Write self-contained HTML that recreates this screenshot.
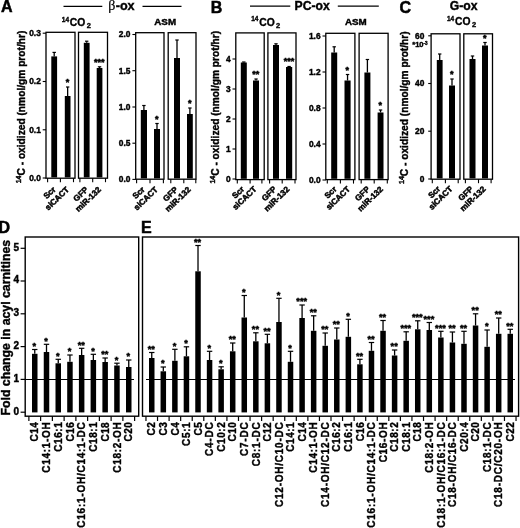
<!DOCTYPE html>
<html lang="en"><head><meta charset="utf-8"><title>Figure</title>
<style>html,body{margin:0;padding:0;background:#fff;}svg{display:block;}text{font-kerning:normal;}</style>
</head><body>
<svg width="520" height="528" viewBox="0 0 520 528" font-family='"Liberation Sans", Arial, Helvetica, sans-serif' fill="#000">
<rect x="0" y="0" width="520" height="528" fill="#fff"/>
<text x="0.90" y="12.10" font-size="16" font-weight="bold" text-anchor="start" stroke="#000" stroke-width="0.5" >A</text>
<text x="210.70" y="13.00" font-size="16" font-weight="bold" text-anchor="start" stroke="#000" stroke-width="0.5" >B</text>
<text x="399.50" y="13.20" font-size="16" font-weight="bold" text-anchor="start" stroke="#000" stroke-width="0.5" >C</text>
<text x="-1.60" y="233.10" font-size="16" font-weight="bold" text-anchor="start" stroke="#000" stroke-width="0.5" >D</text>
<text x="141.00" y="233.20" font-size="16" font-weight="bold" text-anchor="start" stroke="#000" stroke-width="0.5" >E</text>
<line x1="63.50" y1="6.30" x2="102.30" y2="6.30" stroke="#000" stroke-width="1.2" />
<line x1="142.50" y1="6.30" x2="181.50" y2="6.30" stroke="#000" stroke-width="1.2" />
<text x="108.30" y="9.70" font-size="12.6" font-weight="bold" text-anchor="start" stroke="#000" stroke-width="0.4" ><tspan font-family='"Liberation Serif", "DejaVu Serif", serif' font-weight="normal" font-size="14" stroke-width="0.2">β</tspan><tspan dx="0.3">-ox</tspan></text>
<line x1="250.00" y1="6.10" x2="290.30" y2="6.10" stroke="#000" stroke-width="1.2" />
<line x1="337.80" y1="6.10" x2="378.80" y2="6.10" stroke="#000" stroke-width="1.2" />
<text x="294.50" y="10.00" font-size="12.2" font-weight="bold" text-anchor="start" stroke="#000" stroke-width="0.4" >PC-ox</text>
<text x="449.80" y="10.00" font-size="12.2" font-weight="bold" text-anchor="start" stroke="#000" stroke-width="0.4" >G-ox</text>
<text x="61.80" y="25.90" font-size="10.3" font-weight="bold" text-anchor="start" stroke="#000" stroke-width="0.35" ><tspan font-size="6.5" dy="-4.2">14</tspan><tspan dy="4.2" dx="0.8">CO</tspan><tspan font-size="7.5" dy="2.2" dx="1.4">2</tspan></text>
<text x="251.20" y="25.60" font-size="10.3" font-weight="bold" text-anchor="start" stroke="#000" stroke-width="0.35" ><tspan font-size="6.5" dy="-4.2">14</tspan><tspan dy="4.2" dx="0.8">CO</tspan><tspan font-size="7.5" dy="2.2" dx="1.4">2</tspan></text>
<text x="447.00" y="25.20" font-size="10.3" font-weight="bold" text-anchor="start" stroke="#000" stroke-width="0.35" ><tspan font-size="6.5" dy="-4.2">14</tspan><tspan dy="4.2" dx="0.8">CO</tspan><tspan font-size="7.5" dy="2.2" dx="1.4">2</tspan></text>
<text x="165.20" y="24.60" font-size="9.8" font-weight="bold" text-anchor="middle" stroke="#000" stroke-width="0.45" >ASM</text>
<text x="355.80" y="24.90" font-size="9.8" font-weight="bold" text-anchor="middle" stroke="#000" stroke-width="0.45" >ASM</text>
<text x="25.20" y="183.30" font-size="10.2" font-weight="bold" text-anchor="start" transform="rotate(-90 25.20 183.30)" stroke="#000" stroke-width="0.4" ><tspan font-size="7" dy="-4.0">14</tspan><tspan dy="4.0">C - oxidized (nmol/gm prot/hr)</tspan></text>
<text x="219.00" y="183.60" font-size="10.2" font-weight="bold" text-anchor="start" transform="rotate(-90 219.00 183.60)" stroke="#000" stroke-width="0.4" ><tspan font-size="7" dy="-4.0">14</tspan><tspan dy="4.0">C - oxidized (nmol/gm prot/hr)</tspan></text>
<text x="407.80" y="184.00" font-size="10.2" font-weight="bold" text-anchor="start" transform="rotate(-90 407.80 184.00)" stroke="#000" stroke-width="0.4" ><tspan font-size="7" dy="-4.0">14</tspan><tspan dy="4.0">C - oxidized (nmol/gm prot/hr)</tspan></text>
<rect x="46.00" y="32.30" width="29.00" height="145.90" fill="none" stroke="#000" stroke-width="1.3"/>
<rect x="78.50" y="32.30" width="29.00" height="145.90" fill="none" stroke="#000" stroke-width="1.3"/>
<line x1="47.60" y1="178.20" x2="47.60" y2="182.20" stroke="#000" stroke-width="1.1" />
<line x1="60.40" y1="178.20" x2="60.40" y2="182.20" stroke="#000" stroke-width="1.1" />
<line x1="73.50" y1="178.20" x2="73.50" y2="182.20" stroke="#000" stroke-width="1.1" />
<line x1="79.90" y1="178.20" x2="79.90" y2="182.20" stroke="#000" stroke-width="1.1" />
<line x1="92.70" y1="178.20" x2="92.70" y2="182.20" stroke="#000" stroke-width="1.1" />
<line x1="105.50" y1="178.20" x2="105.50" y2="182.20" stroke="#000" stroke-width="1.1" />
<line x1="42.70" y1="33.20" x2="46.00" y2="33.20" stroke="#000" stroke-width="1.1" />
<text x="40.80" y="36.10" font-size="8.4" font-weight="bold" text-anchor="end" stroke="#000" stroke-width="0.4" >0.3</text>
<line x1="42.70" y1="81.50" x2="46.00" y2="81.50" stroke="#000" stroke-width="1.1" />
<text x="40.80" y="84.40" font-size="8.4" font-weight="bold" text-anchor="end" stroke="#000" stroke-width="0.4" >0.2</text>
<line x1="42.70" y1="129.80" x2="46.00" y2="129.80" stroke="#000" stroke-width="1.1" />
<text x="40.80" y="132.70" font-size="8.4" font-weight="bold" text-anchor="end" stroke="#000" stroke-width="0.4" >0.1</text>
<line x1="42.70" y1="178.00" x2="46.00" y2="178.00" stroke="#000" stroke-width="1.1" />
<text x="40.80" y="180.90" font-size="8.4" font-weight="bold" text-anchor="end" stroke="#000" stroke-width="0.4" >0.0</text>
<rect x="51.30" y="56.40" width="5.80" height="121.00" fill="#000" stroke="none" stroke-width="1"/>
<line x1="54.20" y1="56.40" x2="54.20" y2="52.40" stroke="#000" stroke-width="1.3" />
<line x1="52.50" y1="52.40" x2="55.90" y2="52.40" stroke="#000" stroke-width="1.2" />
<rect x="64.80" y="96.00" width="5.70" height="81.40" fill="#000" stroke="none" stroke-width="1"/>
<line x1="67.65" y1="96.00" x2="67.65" y2="87.00" stroke="#000" stroke-width="1.3" />
<line x1="65.95" y1="87.00" x2="69.35" y2="87.00" stroke="#000" stroke-width="1.2" />
<text x="67.45" y="85.20" font-size="9.0" font-weight="bold" text-anchor="middle" stroke="#000" stroke-width="0.55" >*</text>
<rect x="83.80" y="42.80" width="5.80" height="134.60" fill="#000" stroke="none" stroke-width="1"/>
<line x1="86.70" y1="42.80" x2="86.70" y2="41.20" stroke="#000" stroke-width="1.3" />
<line x1="85.00" y1="41.20" x2="88.40" y2="41.20" stroke="#000" stroke-width="1.2" />
<rect x="96.70" y="68.00" width="5.70" height="109.40" fill="#000" stroke="none" stroke-width="1"/>
<line x1="99.55" y1="68.00" x2="99.55" y2="66.80" stroke="#000" stroke-width="1.3" />
<line x1="97.85" y1="66.80" x2="101.25" y2="66.80" stroke="#000" stroke-width="1.2" />
<text x="99.35" y="65.20" font-size="9.0" font-weight="bold" text-anchor="middle" stroke="#000" stroke-width="0.55" >***</text>
<text x="56.20" y="190.20" font-size="8.2" font-weight="bold" text-anchor="end" transform="rotate(-44 56.20 190.20)" stroke="#000" stroke-width="0.5" >Scr</text>
<text x="69.65" y="190.20" font-size="8.2" font-weight="bold" text-anchor="end" transform="rotate(-44 69.65 190.20)" stroke="#000" stroke-width="0.5" >siCACT</text>
<text x="88.70" y="190.20" font-size="8.2" font-weight="bold" text-anchor="end" transform="rotate(-44 88.70 190.20)" stroke="#000" stroke-width="0.5" >GFP</text>
<text x="101.55" y="190.20" font-size="8.2" font-weight="bold" text-anchor="end" transform="rotate(-44 101.55 190.20)" stroke="#000" stroke-width="0.5" >miR-132</text>
<rect x="135.70" y="32.70" width="28.30" height="146.50" fill="none" stroke="#000" stroke-width="1.3"/>
<rect x="168.20" y="32.70" width="27.80" height="146.50" fill="none" stroke="#000" stroke-width="1.3"/>
<line x1="136.60" y1="179.20" x2="136.60" y2="183.20" stroke="#000" stroke-width="1.1" />
<line x1="150.00" y1="179.20" x2="150.00" y2="183.20" stroke="#000" stroke-width="1.1" />
<line x1="163.40" y1="179.20" x2="163.40" y2="183.20" stroke="#000" stroke-width="1.1" />
<line x1="170.80" y1="179.20" x2="170.80" y2="183.20" stroke="#000" stroke-width="1.1" />
<line x1="183.80" y1="179.20" x2="183.80" y2="183.20" stroke="#000" stroke-width="1.1" />
<line x1="195.80" y1="179.20" x2="195.80" y2="183.20" stroke="#000" stroke-width="1.1" />
<line x1="132.40" y1="34.50" x2="135.70" y2="34.50" stroke="#000" stroke-width="1.1" />
<text x="130.50" y="37.40" font-size="8.4" font-weight="bold" text-anchor="end" stroke="#000" stroke-width="0.4" >2.0</text>
<line x1="132.40" y1="70.70" x2="135.70" y2="70.70" stroke="#000" stroke-width="1.1" />
<text x="130.50" y="73.60" font-size="8.4" font-weight="bold" text-anchor="end" stroke="#000" stroke-width="0.4" >1.5</text>
<line x1="132.40" y1="107.00" x2="135.70" y2="107.00" stroke="#000" stroke-width="1.1" />
<text x="130.50" y="109.90" font-size="8.4" font-weight="bold" text-anchor="end" stroke="#000" stroke-width="0.4" >1.0</text>
<line x1="132.40" y1="143.20" x2="135.70" y2="143.20" stroke="#000" stroke-width="1.1" />
<text x="130.50" y="146.10" font-size="8.4" font-weight="bold" text-anchor="end" stroke="#000" stroke-width="0.4" >0.5</text>
<line x1="132.40" y1="179.40" x2="135.70" y2="179.40" stroke="#000" stroke-width="1.1" />
<text x="130.50" y="182.30" font-size="8.4" font-weight="bold" text-anchor="end" stroke="#000" stroke-width="0.4" >0.0</text>
<rect x="140.80" y="110.00" width="6.20" height="68.40" fill="#000" stroke="none" stroke-width="1"/>
<line x1="143.90" y1="110.00" x2="143.90" y2="105.50" stroke="#000" stroke-width="1.3" />
<line x1="142.20" y1="105.50" x2="145.60" y2="105.50" stroke="#000" stroke-width="1.2" />
<rect x="154.00" y="129.00" width="6.00" height="49.40" fill="#000" stroke="none" stroke-width="1"/>
<line x1="157.00" y1="129.00" x2="157.00" y2="123.50" stroke="#000" stroke-width="1.3" />
<line x1="155.30" y1="123.50" x2="158.70" y2="123.50" stroke="#000" stroke-width="1.2" />
<text x="156.80" y="121.70" font-size="9.0" font-weight="bold" text-anchor="middle" stroke="#000" stroke-width="0.55" >*</text>
<rect x="174.00" y="58.00" width="6.00" height="120.40" fill="#000" stroke="none" stroke-width="1"/>
<line x1="177.00" y1="58.00" x2="177.00" y2="40.00" stroke="#000" stroke-width="1.3" />
<line x1="175.30" y1="40.00" x2="178.70" y2="40.00" stroke="#000" stroke-width="1.2" />
<rect x="187.00" y="114.00" width="5.80" height="64.40" fill="#000" stroke="none" stroke-width="1"/>
<line x1="189.90" y1="114.00" x2="189.90" y2="108.00" stroke="#000" stroke-width="1.3" />
<line x1="188.20" y1="108.00" x2="191.60" y2="108.00" stroke="#000" stroke-width="1.2" />
<text x="189.70" y="106.20" font-size="9.0" font-weight="bold" text-anchor="middle" stroke="#000" stroke-width="0.55" >*</text>
<text x="145.30" y="190.20" font-size="8.2" font-weight="bold" text-anchor="end" transform="rotate(-44 145.30 190.20)" stroke="#000" stroke-width="0.5" >Scr</text>
<text x="158.40" y="190.20" font-size="8.2" font-weight="bold" text-anchor="end" transform="rotate(-44 158.40 190.20)" stroke="#000" stroke-width="0.5" >siCACT</text>
<text x="178.40" y="190.20" font-size="8.2" font-weight="bold" text-anchor="end" transform="rotate(-44 178.40 190.20)" stroke="#000" stroke-width="0.5" >GFP</text>
<text x="191.30" y="190.20" font-size="8.2" font-weight="bold" text-anchor="end" transform="rotate(-44 191.30 190.20)" stroke="#000" stroke-width="0.5" >miR-132</text>
<rect x="235.80" y="32.90" width="28.40" height="146.70" fill="none" stroke="#000" stroke-width="1.3"/>
<rect x="267.90" y="32.90" width="28.10" height="146.70" fill="none" stroke="#000" stroke-width="1.3"/>
<line x1="237.30" y1="179.60" x2="237.30" y2="183.60" stroke="#000" stroke-width="1.1" />
<line x1="250.10" y1="179.60" x2="250.10" y2="183.60" stroke="#000" stroke-width="1.1" />
<line x1="261.90" y1="179.60" x2="261.90" y2="183.60" stroke="#000" stroke-width="1.1" />
<line x1="269.60" y1="179.60" x2="269.60" y2="183.60" stroke="#000" stroke-width="1.1" />
<line x1="282.20" y1="179.60" x2="282.20" y2="183.60" stroke="#000" stroke-width="1.1" />
<line x1="295.00" y1="179.60" x2="295.00" y2="183.60" stroke="#000" stroke-width="1.1" />
<line x1="232.50" y1="59.00" x2="235.80" y2="59.00" stroke="#000" stroke-width="1.1" />
<text x="230.60" y="61.90" font-size="8.4" font-weight="bold" text-anchor="end" stroke="#000" stroke-width="0.4" >4</text>
<line x1="232.50" y1="89.00" x2="235.80" y2="89.00" stroke="#000" stroke-width="1.1" />
<text x="230.60" y="91.90" font-size="8.4" font-weight="bold" text-anchor="end" stroke="#000" stroke-width="0.4" >3</text>
<line x1="232.50" y1="119.00" x2="235.80" y2="119.00" stroke="#000" stroke-width="1.1" />
<text x="230.60" y="121.90" font-size="8.4" font-weight="bold" text-anchor="end" stroke="#000" stroke-width="0.4" >2</text>
<line x1="232.50" y1="149.00" x2="235.80" y2="149.00" stroke="#000" stroke-width="1.1" />
<text x="230.60" y="151.90" font-size="8.4" font-weight="bold" text-anchor="end" stroke="#000" stroke-width="0.4" >1</text>
<line x1="232.50" y1="179.00" x2="235.80" y2="179.00" stroke="#000" stroke-width="1.1" />
<text x="230.60" y="181.90" font-size="8.4" font-weight="bold" text-anchor="end" stroke="#000" stroke-width="0.4" >0</text>
<rect x="240.80" y="62.50" width="6.00" height="116.30" fill="#000" stroke="none" stroke-width="1"/>
<line x1="243.80" y1="62.50" x2="243.80" y2="62.00" stroke="#000" stroke-width="1.3" />
<line x1="242.10" y1="62.00" x2="245.50" y2="62.00" stroke="#000" stroke-width="1.2" />
<rect x="253.00" y="80.50" width="6.00" height="98.30" fill="#000" stroke="none" stroke-width="1"/>
<line x1="256.00" y1="80.50" x2="256.00" y2="79.00" stroke="#000" stroke-width="1.3" />
<line x1="254.30" y1="79.00" x2="257.70" y2="79.00" stroke="#000" stroke-width="1.2" />
<text x="255.80" y="77.20" font-size="9.0" font-weight="bold" text-anchor="middle" stroke="#000" stroke-width="0.55" >**</text>
<rect x="273.00" y="45.00" width="6.00" height="133.80" fill="#000" stroke="none" stroke-width="1"/>
<line x1="276.00" y1="45.00" x2="276.00" y2="43.80" stroke="#000" stroke-width="1.3" />
<line x1="274.30" y1="43.80" x2="277.70" y2="43.80" stroke="#000" stroke-width="1.2" />
<rect x="286.00" y="67.00" width="6.20" height="111.80" fill="#000" stroke="none" stroke-width="1"/>
<line x1="289.10" y1="67.00" x2="289.10" y2="66.50" stroke="#000" stroke-width="1.3" />
<line x1="287.40" y1="66.50" x2="290.80" y2="66.50" stroke="#000" stroke-width="1.2" />
<text x="288.90" y="64.20" font-size="9.0" font-weight="bold" text-anchor="middle" stroke="#000" stroke-width="0.55" >***</text>
<text x="244.80" y="189.80" font-size="8.2" font-weight="bold" text-anchor="end" transform="rotate(-44 244.80 189.80)" stroke="#000" stroke-width="0.5" >Scr</text>
<text x="257.00" y="189.80" font-size="8.2" font-weight="bold" text-anchor="end" transform="rotate(-44 257.00 189.80)" stroke="#000" stroke-width="0.5" >siCACT</text>
<text x="277.00" y="189.80" font-size="8.2" font-weight="bold" text-anchor="end" transform="rotate(-44 277.00 189.80)" stroke="#000" stroke-width="0.5" >GFP</text>
<text x="290.10" y="189.80" font-size="8.2" font-weight="bold" text-anchor="end" transform="rotate(-44 290.10 189.80)" stroke="#000" stroke-width="0.5" >miR-132</text>
<rect x="325.80" y="33.30" width="29.10" height="146.30" fill="none" stroke="#000" stroke-width="1.3"/>
<rect x="359.10" y="33.30" width="29.00" height="146.30" fill="none" stroke="#000" stroke-width="1.3"/>
<line x1="327.30" y1="179.60" x2="327.30" y2="183.60" stroke="#000" stroke-width="1.1" />
<line x1="340.40" y1="179.60" x2="340.40" y2="183.60" stroke="#000" stroke-width="1.1" />
<line x1="353.50" y1="179.60" x2="353.50" y2="183.60" stroke="#000" stroke-width="1.1" />
<line x1="361.20" y1="179.60" x2="361.20" y2="183.60" stroke="#000" stroke-width="1.1" />
<line x1="374.20" y1="179.60" x2="374.20" y2="183.60" stroke="#000" stroke-width="1.1" />
<line x1="387.30" y1="179.60" x2="387.30" y2="183.60" stroke="#000" stroke-width="1.1" />
<line x1="322.50" y1="36.00" x2="325.80" y2="36.00" stroke="#000" stroke-width="1.1" />
<text x="320.60" y="38.90" font-size="8.4" font-weight="bold" text-anchor="end" stroke="#000" stroke-width="0.4" >1.6</text>
<line x1="322.50" y1="72.00" x2="325.80" y2="72.00" stroke="#000" stroke-width="1.1" />
<text x="320.60" y="74.90" font-size="8.4" font-weight="bold" text-anchor="end" stroke="#000" stroke-width="0.4" >1.2</text>
<line x1="322.50" y1="108.00" x2="325.80" y2="108.00" stroke="#000" stroke-width="1.1" />
<text x="320.60" y="110.90" font-size="8.4" font-weight="bold" text-anchor="end" stroke="#000" stroke-width="0.4" >0.8</text>
<line x1="322.50" y1="144.00" x2="325.80" y2="144.00" stroke="#000" stroke-width="1.1" />
<text x="320.60" y="146.90" font-size="8.4" font-weight="bold" text-anchor="end" stroke="#000" stroke-width="0.4" >0.4</text>
<line x1="322.50" y1="180.00" x2="325.80" y2="180.00" stroke="#000" stroke-width="1.1" />
<text x="320.60" y="182.90" font-size="8.4" font-weight="bold" text-anchor="end" stroke="#000" stroke-width="0.4" >0.0</text>
<rect x="331.20" y="52.50" width="6.00" height="126.30" fill="#000" stroke="none" stroke-width="1"/>
<line x1="334.20" y1="52.50" x2="334.20" y2="46.80" stroke="#000" stroke-width="1.3" />
<line x1="332.50" y1="46.80" x2="335.90" y2="46.80" stroke="#000" stroke-width="1.2" />
<rect x="344.50" y="80.50" width="6.10" height="98.30" fill="#000" stroke="none" stroke-width="1"/>
<line x1="347.55" y1="80.50" x2="347.55" y2="74.50" stroke="#000" stroke-width="1.3" />
<line x1="345.85" y1="74.50" x2="349.25" y2="74.50" stroke="#000" stroke-width="1.2" />
<text x="347.35" y="72.70" font-size="9.0" font-weight="bold" text-anchor="middle" stroke="#000" stroke-width="0.55" >*</text>
<rect x="364.40" y="72.50" width="6.00" height="106.30" fill="#000" stroke="none" stroke-width="1"/>
<line x1="367.40" y1="72.50" x2="367.40" y2="59.50" stroke="#000" stroke-width="1.3" />
<line x1="365.70" y1="59.50" x2="369.10" y2="59.50" stroke="#000" stroke-width="1.2" />
<rect x="377.60" y="112.50" width="5.90" height="66.30" fill="#000" stroke="none" stroke-width="1"/>
<line x1="380.55" y1="112.50" x2="380.55" y2="110.00" stroke="#000" stroke-width="1.3" />
<line x1="378.85" y1="110.00" x2="382.25" y2="110.00" stroke="#000" stroke-width="1.2" />
<text x="380.35" y="108.20" font-size="9.0" font-weight="bold" text-anchor="middle" stroke="#000" stroke-width="0.55" >*</text>
<text x="337.20" y="189.80" font-size="8.2" font-weight="bold" text-anchor="end" transform="rotate(-44 337.20 189.80)" stroke="#000" stroke-width="0.5" >Scr</text>
<text x="350.55" y="189.80" font-size="8.2" font-weight="bold" text-anchor="end" transform="rotate(-44 350.55 189.80)" stroke="#000" stroke-width="0.5" >siCACT</text>
<text x="370.40" y="189.80" font-size="8.2" font-weight="bold" text-anchor="end" transform="rotate(-44 370.40 189.80)" stroke="#000" stroke-width="0.5" >GFP</text>
<text x="383.55" y="189.80" font-size="8.2" font-weight="bold" text-anchor="end" transform="rotate(-44 383.55 189.80)" stroke="#000" stroke-width="0.5" >miR-132</text>
<rect x="431.10" y="33.80" width="28.90" height="145.40" fill="none" stroke="#000" stroke-width="1.3"/>
<rect x="463.80" y="33.80" width="28.70" height="145.40" fill="none" stroke="#000" stroke-width="1.3"/>
<line x1="432.30" y1="179.20" x2="432.30" y2="183.20" stroke="#000" stroke-width="1.1" />
<line x1="445.40" y1="179.20" x2="445.40" y2="183.20" stroke="#000" stroke-width="1.1" />
<line x1="458.20" y1="179.20" x2="458.20" y2="183.20" stroke="#000" stroke-width="1.1" />
<line x1="465.40" y1="179.20" x2="465.40" y2="183.20" stroke="#000" stroke-width="1.1" />
<line x1="478.50" y1="179.20" x2="478.50" y2="183.20" stroke="#000" stroke-width="1.1" />
<line x1="491.10" y1="179.20" x2="491.10" y2="183.20" stroke="#000" stroke-width="1.1" />
<line x1="428.20" y1="35.80" x2="431.10" y2="35.80" stroke="#000" stroke-width="1.1" />
<text x="424.30" y="38.70" font-size="8.4" font-weight="bold" text-anchor="end" stroke="#000" stroke-width="0.4" >60</text>
<line x1="428.20" y1="83.50" x2="431.10" y2="83.50" stroke="#000" stroke-width="1.1" />
<text x="424.30" y="86.40" font-size="8.4" font-weight="bold" text-anchor="end" stroke="#000" stroke-width="0.4" >40</text>
<line x1="428.20" y1="131.20" x2="431.10" y2="131.20" stroke="#000" stroke-width="1.1" />
<text x="424.30" y="134.10" font-size="8.4" font-weight="bold" text-anchor="end" stroke="#000" stroke-width="0.4" >20</text>
<line x1="428.20" y1="179.00" x2="431.10" y2="179.00" stroke="#000" stroke-width="1.1" />
<text x="424.30" y="181.90" font-size="8.4" font-weight="bold" text-anchor="end" stroke="#000" stroke-width="0.4" >0</text>
<rect x="436.80" y="60.00" width="5.80" height="118.40" fill="#000" stroke="none" stroke-width="1"/>
<line x1="439.70" y1="60.00" x2="439.70" y2="54.00" stroke="#000" stroke-width="1.3" />
<line x1="438.00" y1="54.00" x2="441.40" y2="54.00" stroke="#000" stroke-width="1.2" />
<rect x="449.00" y="85.50" width="6.00" height="92.90" fill="#000" stroke="none" stroke-width="1"/>
<line x1="452.00" y1="85.50" x2="452.00" y2="79.00" stroke="#000" stroke-width="1.3" />
<line x1="450.30" y1="79.00" x2="453.70" y2="79.00" stroke="#000" stroke-width="1.2" />
<text x="451.80" y="77.20" font-size="9.0" font-weight="bold" text-anchor="middle" stroke="#000" stroke-width="0.55" >*</text>
<rect x="469.50" y="59.00" width="6.00" height="119.40" fill="#000" stroke="none" stroke-width="1"/>
<line x1="472.50" y1="59.00" x2="472.50" y2="56.00" stroke="#000" stroke-width="1.3" />
<line x1="470.80" y1="56.00" x2="474.20" y2="56.00" stroke="#000" stroke-width="1.2" />
<rect x="482.00" y="45.50" width="6.00" height="132.90" fill="#000" stroke="none" stroke-width="1"/>
<line x1="485.00" y1="45.50" x2="485.00" y2="42.50" stroke="#000" stroke-width="1.3" />
<line x1="483.30" y1="42.50" x2="486.70" y2="42.50" stroke="#000" stroke-width="1.2" />
<text x="484.80" y="40.70" font-size="9.0" font-weight="bold" text-anchor="middle" stroke="#000" stroke-width="0.55" >*</text>
<text x="440.90" y="189.60" font-size="8.2" font-weight="bold" text-anchor="end" transform="rotate(-44 440.90 189.60)" stroke="#000" stroke-width="0.5" >Scr</text>
<text x="453.20" y="189.60" font-size="8.2" font-weight="bold" text-anchor="end" transform="rotate(-44 453.20 189.60)" stroke="#000" stroke-width="0.5" >siCACT</text>
<text x="473.70" y="189.60" font-size="8.2" font-weight="bold" text-anchor="end" transform="rotate(-44 473.70 189.60)" stroke="#000" stroke-width="0.5" >GFP</text>
<text x="486.20" y="189.60" font-size="8.2" font-weight="bold" text-anchor="end" transform="rotate(-44 486.20 189.60)" stroke="#000" stroke-width="0.5" >miR-132</text>
<text x="427.60" y="47.00" font-size="7.6" font-weight="bold" text-anchor="end" stroke="#000" stroke-width="0.4" >*10<tspan font-size="4.5" dy="-2.4">-3</tspan></text>
<rect x="25.20" y="237.00" width="113.50" height="179.20" fill="none" stroke="#000" stroke-width="1.4"/>
<rect x="32.00" y="353.80" width="5.50" height="58.60" fill="#000" stroke="none" stroke-width="1"/>
<line x1="34.75" y1="353.80" x2="34.75" y2="349.50" stroke="#000" stroke-width="1.3" />
<line x1="32.05" y1="349.50" x2="37.45" y2="349.50" stroke="#000" stroke-width="1.2" />
<text x="34.35" y="348.90" font-size="9.2" font-weight="bold" text-anchor="middle" stroke="#000" stroke-width="0.5" >*</text>
<text x="38.45" y="441.37" font-size="10.0" font-weight="bold" text-anchor="start" transform="rotate(-90 38.45 441.37)" stroke="#000" stroke-width="0.4" textLength="19.07" lengthAdjust="spacing">C14</text>
<rect x="43.75" y="352.00" width="5.50" height="60.40" fill="#000" stroke="none" stroke-width="1"/>
<line x1="46.50" y1="352.00" x2="46.50" y2="344.30" stroke="#000" stroke-width="1.3" />
<line x1="43.80" y1="344.30" x2="49.20" y2="344.30" stroke="#000" stroke-width="1.2" />
<text x="46.10" y="343.70" font-size="9.2" font-weight="bold" text-anchor="middle" stroke="#000" stroke-width="0.5" >*</text>
<text x="50.20" y="472.68" font-size="10.0" font-weight="bold" text-anchor="start" transform="rotate(-90 50.20 472.68)" stroke="#000" stroke-width="0.4" textLength="50.38" lengthAdjust="spacing">C14:1-OH</text>
<rect x="55.50" y="363.30" width="5.50" height="49.10" fill="#000" stroke="none" stroke-width="1"/>
<line x1="58.25" y1="363.30" x2="58.25" y2="359.30" stroke="#000" stroke-width="1.3" />
<line x1="55.55" y1="359.30" x2="60.95" y2="359.30" stroke="#000" stroke-width="1.2" />
<text x="57.85" y="358.70" font-size="9.2" font-weight="bold" text-anchor="middle" stroke="#000" stroke-width="0.5" >*</text>
<text x="61.95" y="451.72" font-size="10.0" font-weight="bold" text-anchor="start" transform="rotate(-90 61.95 451.72)" stroke="#000" stroke-width="0.4" textLength="29.42" lengthAdjust="spacing">C16:1</text>
<rect x="67.20" y="361.80" width="5.50" height="50.60" fill="#000" stroke="none" stroke-width="1"/>
<line x1="69.95" y1="361.80" x2="69.95" y2="355.00" stroke="#000" stroke-width="1.3" />
<line x1="67.25" y1="355.00" x2="72.65" y2="355.00" stroke="#000" stroke-width="1.2" />
<text x="69.55" y="354.40" font-size="9.2" font-weight="bold" text-anchor="middle" stroke="#000" stroke-width="0.5" >*</text>
<text x="73.65" y="441.37" font-size="10.0" font-weight="bold" text-anchor="start" transform="rotate(-90 73.65 441.37)" stroke="#000" stroke-width="0.4" textLength="19.07" lengthAdjust="spacing">C16</text>
<rect x="78.90" y="355.00" width="5.50" height="57.40" fill="#000" stroke="none" stroke-width="1"/>
<line x1="81.65" y1="355.00" x2="81.65" y2="348.30" stroke="#000" stroke-width="1.3" />
<line x1="78.95" y1="348.30" x2="84.35" y2="348.30" stroke="#000" stroke-width="1.2" />
<text x="81.25" y="347.70" font-size="9.2" font-weight="bold" text-anchor="middle" stroke="#000" stroke-width="0.5" >**</text>
<text x="85.35" y="527.67" font-size="10.0" font-weight="bold" text-anchor="start" transform="rotate(-90 85.35 527.67)" stroke="#000" stroke-width="0.4" textLength="105.37" lengthAdjust="spacing">C16:1-OH/C14:1-DC</text>
<rect x="90.60" y="360.00" width="5.50" height="52.40" fill="#000" stroke="none" stroke-width="1"/>
<line x1="93.35" y1="360.00" x2="93.35" y2="354.30" stroke="#000" stroke-width="1.3" />
<line x1="90.65" y1="354.30" x2="96.05" y2="354.30" stroke="#000" stroke-width="1.2" />
<text x="92.95" y="353.70" font-size="9.2" font-weight="bold" text-anchor="middle" stroke="#000" stroke-width="0.5" >*</text>
<text x="97.05" y="451.72" font-size="10.0" font-weight="bold" text-anchor="start" transform="rotate(-90 97.05 451.72)" stroke="#000" stroke-width="0.4" textLength="29.42" lengthAdjust="spacing">C18:1</text>
<rect x="102.40" y="362.00" width="5.50" height="50.40" fill="#000" stroke="none" stroke-width="1"/>
<line x1="105.15" y1="362.00" x2="105.15" y2="358.00" stroke="#000" stroke-width="1.3" />
<line x1="102.45" y1="358.00" x2="107.85" y2="358.00" stroke="#000" stroke-width="1.2" />
<text x="104.75" y="357.40" font-size="9.2" font-weight="bold" text-anchor="middle" stroke="#000" stroke-width="0.5" >**</text>
<text x="108.85" y="441.37" font-size="10.0" font-weight="bold" text-anchor="start" transform="rotate(-90 108.85 441.37)" stroke="#000" stroke-width="0.4" textLength="19.07" lengthAdjust="spacing">C18</text>
<rect x="114.20" y="365.50" width="5.50" height="46.90" fill="#000" stroke="none" stroke-width="1"/>
<line x1="116.95" y1="365.50" x2="116.95" y2="363.20" stroke="#000" stroke-width="1.3" />
<line x1="114.25" y1="363.20" x2="119.65" y2="363.20" stroke="#000" stroke-width="1.2" />
<text x="116.55" y="362.60" font-size="9.2" font-weight="bold" text-anchor="middle" stroke="#000" stroke-width="0.5" >*</text>
<text x="120.65" y="472.68" font-size="10.0" font-weight="bold" text-anchor="start" transform="rotate(-90 120.65 472.68)" stroke="#000" stroke-width="0.4" textLength="50.38" lengthAdjust="spacing">C18:2-OH</text>
<rect x="126.00" y="367.00" width="5.50" height="45.40" fill="#000" stroke="none" stroke-width="1"/>
<line x1="128.75" y1="367.00" x2="128.75" y2="360.00" stroke="#000" stroke-width="1.3" />
<line x1="126.05" y1="360.00" x2="131.45" y2="360.00" stroke="#000" stroke-width="1.2" />
<text x="128.35" y="359.40" font-size="9.2" font-weight="bold" text-anchor="middle" stroke="#000" stroke-width="0.5" >*</text>
<text x="132.45" y="441.37" font-size="10.0" font-weight="bold" text-anchor="start" transform="rotate(-90 132.45 441.37)" stroke="#000" stroke-width="0.4" textLength="19.07" lengthAdjust="spacing">C20</text>
<line x1="28.88" y1="416.20" x2="28.88" y2="421.00" stroke="#000" stroke-width="1.2" />
<line x1="40.62" y1="416.20" x2="40.62" y2="421.00" stroke="#000" stroke-width="1.2" />
<line x1="52.38" y1="416.20" x2="52.38" y2="421.00" stroke="#000" stroke-width="1.2" />
<line x1="64.12" y1="416.20" x2="64.12" y2="421.00" stroke="#000" stroke-width="1.2" />
<line x1="75.88" y1="416.20" x2="75.88" y2="421.00" stroke="#000" stroke-width="1.2" />
<line x1="87.62" y1="416.20" x2="87.62" y2="421.00" stroke="#000" stroke-width="1.2" />
<line x1="99.38" y1="416.20" x2="99.38" y2="421.00" stroke="#000" stroke-width="1.2" />
<line x1="111.12" y1="416.20" x2="111.12" y2="421.00" stroke="#000" stroke-width="1.2" />
<line x1="122.88" y1="416.20" x2="122.88" y2="421.00" stroke="#000" stroke-width="1.2" />
<line x1="134.62" y1="416.20" x2="134.62" y2="421.00" stroke="#000" stroke-width="1.2" />
<line x1="25.20" y1="379.50" x2="134.00" y2="379.50" stroke="#000" stroke-width="1.2" />
<line x1="20.60" y1="248.30" x2="25.20" y2="248.30" stroke="#000" stroke-width="1.2" />
<text x="19.00" y="250.70" font-size="10.0" font-weight="bold" text-anchor="end" stroke="#000" stroke-width="0.4" >5</text>
<line x1="20.60" y1="281.00" x2="25.20" y2="281.00" stroke="#000" stroke-width="1.2" />
<text x="19.00" y="283.40" font-size="10.0" font-weight="bold" text-anchor="end" stroke="#000" stroke-width="0.4" >4</text>
<line x1="20.60" y1="313.80" x2="25.20" y2="313.80" stroke="#000" stroke-width="1.2" />
<text x="19.00" y="316.20" font-size="10.0" font-weight="bold" text-anchor="end" stroke="#000" stroke-width="0.4" >3</text>
<line x1="20.60" y1="346.60" x2="25.20" y2="346.60" stroke="#000" stroke-width="1.2" />
<text x="19.00" y="349.00" font-size="10.0" font-weight="bold" text-anchor="end" stroke="#000" stroke-width="0.4" >2</text>
<line x1="20.60" y1="379.40" x2="25.20" y2="379.40" stroke="#000" stroke-width="1.2" />
<text x="19.00" y="381.80" font-size="10.0" font-weight="bold" text-anchor="end" stroke="#000" stroke-width="0.4" >1</text>
<line x1="20.60" y1="412.20" x2="25.20" y2="412.20" stroke="#000" stroke-width="1.2" />
<text x="19.00" y="414.60" font-size="10.0" font-weight="bold" text-anchor="end" stroke="#000" stroke-width="0.4" >0</text>
<text x="9.60" y="415.50" font-size="12.3" font-weight="bold" text-anchor="start" transform="rotate(-90 9.60 415.50)" stroke="#000" stroke-width="0.4" >Fold change in acyl carnitines</text>
<rect x="142.50" y="237.00" width="376.10" height="179.20" fill="none" stroke="#000" stroke-width="1.4"/>
<rect x="149.00" y="358.00" width="5.50" height="54.40" fill="#000" stroke="none" stroke-width="1"/>
<line x1="151.75" y1="358.00" x2="151.75" y2="352.50" stroke="#000" stroke-width="1.3" />
<line x1="149.05" y1="352.50" x2="154.45" y2="352.50" stroke="#000" stroke-width="1.2" />
<text x="151.35" y="351.90" font-size="9.2" font-weight="bold" text-anchor="middle" stroke="#000" stroke-width="0.5" >**</text>
<text x="155.45" y="435.59" font-size="10.0" font-weight="bold" text-anchor="start" transform="rotate(-90 155.45 435.59)" stroke="#000" stroke-width="0.4" textLength="13.29" lengthAdjust="spacing">C2</text>
<rect x="160.56" y="371.30" width="5.50" height="41.10" fill="#000" stroke="none" stroke-width="1"/>
<line x1="163.31" y1="371.30" x2="163.31" y2="367.00" stroke="#000" stroke-width="1.3" />
<line x1="160.61" y1="367.00" x2="166.01" y2="367.00" stroke="#000" stroke-width="1.2" />
<text x="162.91" y="366.40" font-size="9.2" font-weight="bold" text-anchor="middle" stroke="#000" stroke-width="0.5" >*</text>
<text x="167.01" y="435.59" font-size="10.0" font-weight="bold" text-anchor="start" transform="rotate(-90 167.01 435.59)" stroke="#000" stroke-width="0.4" textLength="13.29" lengthAdjust="spacing">C3</text>
<rect x="172.13" y="360.80" width="5.50" height="51.60" fill="#000" stroke="none" stroke-width="1"/>
<line x1="174.88" y1="360.80" x2="174.88" y2="349.30" stroke="#000" stroke-width="1.3" />
<line x1="172.18" y1="349.30" x2="177.58" y2="349.30" stroke="#000" stroke-width="1.2" />
<text x="174.48" y="348.70" font-size="9.2" font-weight="bold" text-anchor="middle" stroke="#000" stroke-width="0.5" >*</text>
<text x="178.58" y="435.59" font-size="10.0" font-weight="bold" text-anchor="start" transform="rotate(-90 178.58 435.59)" stroke="#000" stroke-width="0.4" textLength="13.29" lengthAdjust="spacing">C4</text>
<rect x="183.69" y="356.30" width="5.50" height="56.10" fill="#000" stroke="none" stroke-width="1"/>
<line x1="186.44" y1="356.30" x2="186.44" y2="346.80" stroke="#000" stroke-width="1.3" />
<line x1="183.74" y1="346.80" x2="189.14" y2="346.80" stroke="#000" stroke-width="1.2" />
<text x="186.04" y="346.20" font-size="9.2" font-weight="bold" text-anchor="middle" stroke="#000" stroke-width="0.5" >*</text>
<text x="190.14" y="445.94" font-size="10.0" font-weight="bold" text-anchor="start" transform="rotate(-90 190.14 445.94)" stroke="#000" stroke-width="0.4" textLength="23.64" lengthAdjust="spacing">C5:1</text>
<rect x="195.26" y="271.30" width="5.50" height="141.10" fill="#000" stroke="none" stroke-width="1"/>
<line x1="198.01" y1="271.30" x2="198.01" y2="245.50" stroke="#000" stroke-width="1.3" />
<line x1="195.31" y1="245.50" x2="200.71" y2="245.50" stroke="#000" stroke-width="1.2" />
<text x="197.61" y="244.90" font-size="9.2" font-weight="bold" text-anchor="middle" stroke="#000" stroke-width="0.5" >**</text>
<text x="201.71" y="435.59" font-size="10.0" font-weight="bold" text-anchor="start" transform="rotate(-90 201.71 435.59)" stroke="#000" stroke-width="0.4" textLength="13.29" lengthAdjust="spacing">C5</text>
<rect x="206.82" y="360.00" width="5.50" height="52.40" fill="#000" stroke="none" stroke-width="1"/>
<line x1="209.57" y1="360.00" x2="209.57" y2="351.30" stroke="#000" stroke-width="1.3" />
<line x1="206.87" y1="351.30" x2="212.27" y2="351.30" stroke="#000" stroke-width="1.2" />
<text x="209.17" y="350.70" font-size="9.2" font-weight="bold" text-anchor="middle" stroke="#000" stroke-width="0.5" >*</text>
<text x="213.27" y="455.97" font-size="10.0" font-weight="bold" text-anchor="start" transform="rotate(-90 213.27 455.97)" stroke="#000" stroke-width="0.4" textLength="33.67" lengthAdjust="spacing">C4-DC</text>
<rect x="218.39" y="369.30" width="5.50" height="43.10" fill="#000" stroke="none" stroke-width="1"/>
<line x1="221.14" y1="369.30" x2="221.14" y2="366.80" stroke="#000" stroke-width="1.3" />
<line x1="218.44" y1="366.80" x2="223.84" y2="366.80" stroke="#000" stroke-width="1.2" />
<text x="220.74" y="366.20" font-size="9.2" font-weight="bold" text-anchor="middle" stroke="#000" stroke-width="0.5" >*</text>
<text x="224.84" y="451.72" font-size="10.0" font-weight="bold" text-anchor="start" transform="rotate(-90 224.84 451.72)" stroke="#000" stroke-width="0.4" textLength="29.42" lengthAdjust="spacing">C10:2</text>
<rect x="229.95" y="351.30" width="5.50" height="61.10" fill="#000" stroke="none" stroke-width="1"/>
<line x1="232.70" y1="351.30" x2="232.70" y2="343.00" stroke="#000" stroke-width="1.3" />
<line x1="230.00" y1="343.00" x2="235.40" y2="343.00" stroke="#000" stroke-width="1.2" />
<text x="232.30" y="342.40" font-size="9.2" font-weight="bold" text-anchor="middle" stroke="#000" stroke-width="0.5" >**</text>
<text x="236.40" y="441.37" font-size="10.0" font-weight="bold" text-anchor="start" transform="rotate(-90 236.40 441.37)" stroke="#000" stroke-width="0.4" textLength="19.07" lengthAdjust="spacing">C10</text>
<rect x="241.52" y="317.50" width="5.50" height="94.90" fill="#000" stroke="none" stroke-width="1"/>
<line x1="244.27" y1="317.50" x2="244.27" y2="295.50" stroke="#000" stroke-width="1.3" />
<line x1="241.57" y1="295.50" x2="246.97" y2="295.50" stroke="#000" stroke-width="1.2" />
<text x="243.87" y="294.90" font-size="9.2" font-weight="bold" text-anchor="middle" stroke="#000" stroke-width="0.5" >*</text>
<text x="247.97" y="455.97" font-size="10.0" font-weight="bold" text-anchor="start" transform="rotate(-90 247.97 455.97)" stroke="#000" stroke-width="0.4" textLength="33.67" lengthAdjust="spacing">C7-DC</text>
<rect x="253.08" y="341.30" width="5.50" height="71.10" fill="#000" stroke="none" stroke-width="1"/>
<line x1="255.83" y1="341.30" x2="255.83" y2="332.80" stroke="#000" stroke-width="1.3" />
<line x1="253.13" y1="332.80" x2="258.53" y2="332.80" stroke="#000" stroke-width="1.2" />
<text x="255.43" y="332.20" font-size="9.2" font-weight="bold" text-anchor="middle" stroke="#000" stroke-width="0.5" >**</text>
<text x="259.53" y="466.32" font-size="10.0" font-weight="bold" text-anchor="start" transform="rotate(-90 259.53 466.32)" stroke="#000" stroke-width="0.4" textLength="44.02" lengthAdjust="spacing">C8:1-DC</text>
<rect x="264.65" y="343.30" width="5.50" height="69.10" fill="#000" stroke="none" stroke-width="1"/>
<line x1="267.40" y1="343.30" x2="267.40" y2="334.30" stroke="#000" stroke-width="1.3" />
<line x1="264.70" y1="334.30" x2="270.10" y2="334.30" stroke="#000" stroke-width="1.2" />
<text x="267.00" y="333.70" font-size="9.2" font-weight="bold" text-anchor="middle" stroke="#000" stroke-width="0.5" >**</text>
<text x="271.10" y="441.37" font-size="10.0" font-weight="bold" text-anchor="start" transform="rotate(-90 271.10 441.37)" stroke="#000" stroke-width="0.4" textLength="19.07" lengthAdjust="spacing">C12</text>
<rect x="276.21" y="322.00" width="5.50" height="90.40" fill="#000" stroke="none" stroke-width="1"/>
<line x1="278.96" y1="322.00" x2="278.96" y2="298.30" stroke="#000" stroke-width="1.3" />
<line x1="276.26" y1="298.30" x2="281.66" y2="298.30" stroke="#000" stroke-width="1.2" />
<text x="278.56" y="297.70" font-size="9.2" font-weight="bold" text-anchor="middle" stroke="#000" stroke-width="0.5" >*</text>
<text x="282.66" y="506.98" font-size="10.0" font-weight="bold" text-anchor="start" transform="rotate(-90 282.66 506.98)" stroke="#000" stroke-width="0.4" textLength="84.68" lengthAdjust="spacing">C12-OH/C10-DC</text>
<rect x="287.77" y="361.80" width="5.50" height="50.60" fill="#000" stroke="none" stroke-width="1"/>
<line x1="290.52" y1="361.80" x2="290.52" y2="351.30" stroke="#000" stroke-width="1.3" />
<line x1="287.82" y1="351.30" x2="293.22" y2="351.30" stroke="#000" stroke-width="1.2" />
<text x="290.12" y="350.70" font-size="9.2" font-weight="bold" text-anchor="middle" stroke="#000" stroke-width="0.5" >*</text>
<text x="294.22" y="451.72" font-size="10.0" font-weight="bold" text-anchor="start" transform="rotate(-90 294.22 451.72)" stroke="#000" stroke-width="0.4" textLength="29.42" lengthAdjust="spacing">C14:1</text>
<rect x="299.34" y="318.00" width="5.50" height="94.40" fill="#000" stroke="none" stroke-width="1"/>
<line x1="302.09" y1="318.00" x2="302.09" y2="305.00" stroke="#000" stroke-width="1.3" />
<line x1="299.39" y1="305.00" x2="304.79" y2="305.00" stroke="#000" stroke-width="1.2" />
<text x="301.69" y="304.40" font-size="9.2" font-weight="bold" text-anchor="middle" stroke="#000" stroke-width="0.5" >***</text>
<text x="305.79" y="441.37" font-size="10.0" font-weight="bold" text-anchor="start" transform="rotate(-90 305.79 441.37)" stroke="#000" stroke-width="0.4" textLength="19.07" lengthAdjust="spacing">C14</text>
<rect x="310.90" y="330.80" width="5.50" height="81.60" fill="#000" stroke="none" stroke-width="1"/>
<line x1="313.65" y1="330.80" x2="313.65" y2="315.80" stroke="#000" stroke-width="1.3" />
<line x1="310.95" y1="315.80" x2="316.35" y2="315.80" stroke="#000" stroke-width="1.2" />
<text x="313.25" y="315.20" font-size="9.2" font-weight="bold" text-anchor="middle" stroke="#000" stroke-width="0.5" >**</text>
<text x="317.35" y="472.68" font-size="10.0" font-weight="bold" text-anchor="start" transform="rotate(-90 317.35 472.68)" stroke="#000" stroke-width="0.4" textLength="50.38" lengthAdjust="spacing">C14:1-OH</text>
<rect x="322.47" y="345.80" width="5.50" height="66.60" fill="#000" stroke="none" stroke-width="1"/>
<line x1="325.22" y1="345.80" x2="325.22" y2="333.00" stroke="#000" stroke-width="1.3" />
<line x1="322.52" y1="333.00" x2="327.92" y2="333.00" stroke="#000" stroke-width="1.2" />
<text x="324.82" y="332.40" font-size="9.2" font-weight="bold" text-anchor="middle" stroke="#000" stroke-width="0.5" >**</text>
<text x="328.92" y="506.98" font-size="10.0" font-weight="bold" text-anchor="start" transform="rotate(-90 328.92 506.98)" stroke="#000" stroke-width="0.4" textLength="84.68" lengthAdjust="spacing">C14-OH/C12-DC</text>
<rect x="334.03" y="339.50" width="5.50" height="72.90" fill="#000" stroke="none" stroke-width="1"/>
<line x1="336.78" y1="339.50" x2="336.78" y2="328.00" stroke="#000" stroke-width="1.3" />
<line x1="334.08" y1="328.00" x2="339.48" y2="328.00" stroke="#000" stroke-width="1.2" />
<text x="336.38" y="327.40" font-size="9.2" font-weight="bold" text-anchor="middle" stroke="#000" stroke-width="0.5" >**</text>
<text x="340.48" y="451.72" font-size="10.0" font-weight="bold" text-anchor="start" transform="rotate(-90 340.48 451.72)" stroke="#000" stroke-width="0.4" textLength="29.42" lengthAdjust="spacing">C16:2</text>
<rect x="345.60" y="336.80" width="5.50" height="75.60" fill="#000" stroke="none" stroke-width="1"/>
<line x1="348.35" y1="336.80" x2="348.35" y2="319.30" stroke="#000" stroke-width="1.3" />
<line x1="345.65" y1="319.30" x2="351.05" y2="319.30" stroke="#000" stroke-width="1.2" />
<text x="347.95" y="318.70" font-size="9.2" font-weight="bold" text-anchor="middle" stroke="#000" stroke-width="0.5" >*</text>
<text x="352.05" y="451.72" font-size="10.0" font-weight="bold" text-anchor="start" transform="rotate(-90 352.05 451.72)" stroke="#000" stroke-width="0.4" textLength="29.42" lengthAdjust="spacing">C16:1</text>
<rect x="357.16" y="364.30" width="5.50" height="48.10" fill="#000" stroke="none" stroke-width="1"/>
<line x1="359.91" y1="364.30" x2="359.91" y2="359.30" stroke="#000" stroke-width="1.3" />
<line x1="357.21" y1="359.30" x2="362.61" y2="359.30" stroke="#000" stroke-width="1.2" />
<text x="359.51" y="358.70" font-size="9.2" font-weight="bold" text-anchor="middle" stroke="#000" stroke-width="0.5" >**</text>
<text x="363.61" y="441.37" font-size="10.0" font-weight="bold" text-anchor="start" transform="rotate(-90 363.61 441.37)" stroke="#000" stroke-width="0.4" textLength="19.07" lengthAdjust="spacing">C16</text>
<rect x="368.73" y="350.80" width="5.50" height="61.60" fill="#000" stroke="none" stroke-width="1"/>
<line x1="371.48" y1="350.80" x2="371.48" y2="342.50" stroke="#000" stroke-width="1.3" />
<line x1="368.78" y1="342.50" x2="374.18" y2="342.50" stroke="#000" stroke-width="1.2" />
<text x="371.08" y="341.90" font-size="9.2" font-weight="bold" text-anchor="middle" stroke="#000" stroke-width="0.5" >**</text>
<text x="375.18" y="527.67" font-size="10.0" font-weight="bold" text-anchor="start" transform="rotate(-90 375.18 527.67)" stroke="#000" stroke-width="0.4" textLength="105.37" lengthAdjust="spacing">C16:1-OH/C14:1-DC</text>
<rect x="380.29" y="330.80" width="5.50" height="81.60" fill="#000" stroke="none" stroke-width="1"/>
<line x1="383.04" y1="330.80" x2="383.04" y2="320.50" stroke="#000" stroke-width="1.3" />
<line x1="380.34" y1="320.50" x2="385.74" y2="320.50" stroke="#000" stroke-width="1.2" />
<text x="382.64" y="319.90" font-size="9.2" font-weight="bold" text-anchor="middle" stroke="#000" stroke-width="0.5" >**</text>
<text x="386.74" y="462.34" font-size="10.0" font-weight="bold" text-anchor="start" transform="rotate(-90 386.74 462.34)" stroke="#000" stroke-width="0.4" textLength="40.04" lengthAdjust="spacing">C16-OH</text>
<rect x="391.85" y="355.50" width="5.50" height="56.90" fill="#000" stroke="none" stroke-width="1"/>
<line x1="394.60" y1="355.50" x2="394.60" y2="350.00" stroke="#000" stroke-width="1.3" />
<line x1="391.90" y1="350.00" x2="397.30" y2="350.00" stroke="#000" stroke-width="1.2" />
<text x="394.20" y="349.40" font-size="9.2" font-weight="bold" text-anchor="middle" stroke="#000" stroke-width="0.5" >**</text>
<text x="398.30" y="451.72" font-size="10.0" font-weight="bold" text-anchor="start" transform="rotate(-90 398.30 451.72)" stroke="#000" stroke-width="0.4" textLength="29.42" lengthAdjust="spacing">C18:2</text>
<rect x="403.42" y="340.80" width="5.50" height="71.60" fill="#000" stroke="none" stroke-width="1"/>
<line x1="406.17" y1="340.80" x2="406.17" y2="331.80" stroke="#000" stroke-width="1.3" />
<line x1="403.47" y1="331.80" x2="408.87" y2="331.80" stroke="#000" stroke-width="1.2" />
<text x="405.77" y="331.20" font-size="9.2" font-weight="bold" text-anchor="middle" stroke="#000" stroke-width="0.5" >***</text>
<text x="409.87" y="451.72" font-size="10.0" font-weight="bold" text-anchor="start" transform="rotate(-90 409.87 451.72)" stroke="#000" stroke-width="0.4" textLength="29.42" lengthAdjust="spacing">C18:1</text>
<rect x="414.98" y="329.30" width="5.50" height="83.10" fill="#000" stroke="none" stroke-width="1"/>
<line x1="417.73" y1="329.30" x2="417.73" y2="320.80" stroke="#000" stroke-width="1.3" />
<line x1="415.03" y1="320.80" x2="420.43" y2="320.80" stroke="#000" stroke-width="1.2" />
<text x="417.33" y="320.20" font-size="9.2" font-weight="bold" text-anchor="middle" stroke="#000" stroke-width="0.5" >***</text>
<text x="421.43" y="441.37" font-size="10.0" font-weight="bold" text-anchor="start" transform="rotate(-90 421.43 441.37)" stroke="#000" stroke-width="0.4" textLength="19.07" lengthAdjust="spacing">C18</text>
<rect x="426.55" y="330.00" width="5.50" height="82.40" fill="#000" stroke="none" stroke-width="1"/>
<line x1="429.30" y1="330.00" x2="429.30" y2="322.50" stroke="#000" stroke-width="1.3" />
<line x1="426.60" y1="322.50" x2="432.00" y2="322.50" stroke="#000" stroke-width="1.2" />
<text x="428.90" y="321.90" font-size="9.2" font-weight="bold" text-anchor="middle" stroke="#000" stroke-width="0.5" >***</text>
<text x="433.00" y="472.68" font-size="10.0" font-weight="bold" text-anchor="start" transform="rotate(-90 433.00 472.68)" stroke="#000" stroke-width="0.4" textLength="50.38" lengthAdjust="spacing">C18:2-OH</text>
<rect x="438.11" y="337.50" width="5.50" height="74.90" fill="#000" stroke="none" stroke-width="1"/>
<line x1="440.86" y1="337.50" x2="440.86" y2="331.30" stroke="#000" stroke-width="1.3" />
<line x1="438.16" y1="331.30" x2="443.56" y2="331.30" stroke="#000" stroke-width="1.2" />
<text x="440.46" y="330.70" font-size="9.2" font-weight="bold" text-anchor="middle" stroke="#000" stroke-width="0.5" >***</text>
<text x="444.56" y="527.67" font-size="10.0" font-weight="bold" text-anchor="start" transform="rotate(-90 444.56 527.67)" stroke="#000" stroke-width="0.4" textLength="105.37" lengthAdjust="spacing">C18:1-OH/C16:1-DC</text>
<rect x="449.68" y="342.50" width="5.50" height="69.90" fill="#000" stroke="none" stroke-width="1"/>
<line x1="452.43" y1="342.50" x2="452.43" y2="332.00" stroke="#000" stroke-width="1.3" />
<line x1="449.73" y1="332.00" x2="455.13" y2="332.00" stroke="#000" stroke-width="1.2" />
<text x="452.03" y="331.40" font-size="9.2" font-weight="bold" text-anchor="middle" stroke="#000" stroke-width="0.5" >**</text>
<text x="456.13" y="506.98" font-size="10.0" font-weight="bold" text-anchor="start" transform="rotate(-90 456.13 506.98)" stroke="#000" stroke-width="0.4" textLength="84.68" lengthAdjust="spacing">C18-OH/C16-DC</text>
<rect x="461.24" y="343.80" width="5.50" height="68.60" fill="#000" stroke="none" stroke-width="1"/>
<line x1="463.99" y1="343.80" x2="463.99" y2="331.30" stroke="#000" stroke-width="1.3" />
<line x1="461.29" y1="331.30" x2="466.69" y2="331.30" stroke="#000" stroke-width="1.2" />
<text x="463.59" y="330.70" font-size="9.2" font-weight="bold" text-anchor="middle" stroke="#000" stroke-width="0.5" >**</text>
<text x="467.69" y="451.72" font-size="10.0" font-weight="bold" text-anchor="start" transform="rotate(-90 467.69 451.72)" stroke="#000" stroke-width="0.4" textLength="29.42" lengthAdjust="spacing">C20:4</text>
<rect x="472.81" y="325.50" width="5.50" height="86.90" fill="#000" stroke="none" stroke-width="1"/>
<line x1="475.56" y1="325.50" x2="475.56" y2="313.80" stroke="#000" stroke-width="1.3" />
<line x1="472.86" y1="313.80" x2="478.26" y2="313.80" stroke="#000" stroke-width="1.2" />
<text x="475.16" y="313.20" font-size="9.2" font-weight="bold" text-anchor="middle" stroke="#000" stroke-width="0.5" >**</text>
<text x="479.26" y="441.37" font-size="10.0" font-weight="bold" text-anchor="start" transform="rotate(-90 479.26 441.37)" stroke="#000" stroke-width="0.4" textLength="19.07" lengthAdjust="spacing">C20</text>
<rect x="484.37" y="346.80" width="5.50" height="65.60" fill="#000" stroke="none" stroke-width="1"/>
<line x1="487.12" y1="346.80" x2="487.12" y2="330.00" stroke="#000" stroke-width="1.3" />
<line x1="484.42" y1="330.00" x2="489.82" y2="330.00" stroke="#000" stroke-width="1.2" />
<text x="486.72" y="329.40" font-size="9.2" font-weight="bold" text-anchor="middle" stroke="#000" stroke-width="0.5" >*</text>
<text x="490.82" y="472.10" font-size="10.0" font-weight="bold" text-anchor="start" transform="rotate(-90 490.82 472.10)" stroke="#000" stroke-width="0.4" textLength="49.80" lengthAdjust="spacing">C18:1-DC</text>
<rect x="495.94" y="333.80" width="5.50" height="78.60" fill="#000" stroke="none" stroke-width="1"/>
<line x1="498.69" y1="333.80" x2="498.69" y2="318.00" stroke="#000" stroke-width="1.3" />
<line x1="495.99" y1="318.00" x2="501.39" y2="318.00" stroke="#000" stroke-width="1.2" />
<text x="498.29" y="317.40" font-size="9.2" font-weight="bold" text-anchor="middle" stroke="#000" stroke-width="0.5" >**</text>
<text x="502.39" y="506.98" font-size="10.0" font-weight="bold" text-anchor="start" transform="rotate(-90 502.39 506.98)" stroke="#000" stroke-width="0.4" textLength="84.68" lengthAdjust="spacing">C18-DC/C20-OH</text>
<rect x="507.50" y="333.80" width="5.50" height="78.60" fill="#000" stroke="none" stroke-width="1"/>
<line x1="510.25" y1="333.80" x2="510.25" y2="329.30" stroke="#000" stroke-width="1.3" />
<line x1="507.55" y1="329.30" x2="512.95" y2="329.30" stroke="#000" stroke-width="1.2" />
<text x="509.85" y="328.70" font-size="9.2" font-weight="bold" text-anchor="middle" stroke="#000" stroke-width="0.5" >**</text>
<text x="513.95" y="441.37" font-size="10.0" font-weight="bold" text-anchor="start" transform="rotate(-90 513.95 441.37)" stroke="#000" stroke-width="0.4" textLength="19.07" lengthAdjust="spacing">C22</text>
<line x1="145.97" y1="416.20" x2="145.97" y2="421.00" stroke="#000" stroke-width="1.2" />
<line x1="157.53" y1="416.20" x2="157.53" y2="421.00" stroke="#000" stroke-width="1.2" />
<line x1="169.10" y1="416.20" x2="169.10" y2="421.00" stroke="#000" stroke-width="1.2" />
<line x1="180.66" y1="416.20" x2="180.66" y2="421.00" stroke="#000" stroke-width="1.2" />
<line x1="192.23" y1="416.20" x2="192.23" y2="421.00" stroke="#000" stroke-width="1.2" />
<line x1="203.79" y1="416.20" x2="203.79" y2="421.00" stroke="#000" stroke-width="1.2" />
<line x1="215.35" y1="416.20" x2="215.35" y2="421.00" stroke="#000" stroke-width="1.2" />
<line x1="226.92" y1="416.20" x2="226.92" y2="421.00" stroke="#000" stroke-width="1.2" />
<line x1="238.48" y1="416.20" x2="238.48" y2="421.00" stroke="#000" stroke-width="1.2" />
<line x1="250.05" y1="416.20" x2="250.05" y2="421.00" stroke="#000" stroke-width="1.2" />
<line x1="261.61" y1="416.20" x2="261.61" y2="421.00" stroke="#000" stroke-width="1.2" />
<line x1="273.18" y1="416.20" x2="273.18" y2="421.00" stroke="#000" stroke-width="1.2" />
<line x1="284.74" y1="416.20" x2="284.74" y2="421.00" stroke="#000" stroke-width="1.2" />
<line x1="296.31" y1="416.20" x2="296.31" y2="421.00" stroke="#000" stroke-width="1.2" />
<line x1="307.87" y1="416.20" x2="307.87" y2="421.00" stroke="#000" stroke-width="1.2" />
<line x1="319.44" y1="416.20" x2="319.44" y2="421.00" stroke="#000" stroke-width="1.2" />
<line x1="331.00" y1="416.20" x2="331.00" y2="421.00" stroke="#000" stroke-width="1.2" />
<line x1="342.56" y1="416.20" x2="342.56" y2="421.00" stroke="#000" stroke-width="1.2" />
<line x1="354.13" y1="416.20" x2="354.13" y2="421.00" stroke="#000" stroke-width="1.2" />
<line x1="365.69" y1="416.20" x2="365.69" y2="421.00" stroke="#000" stroke-width="1.2" />
<line x1="377.26" y1="416.20" x2="377.26" y2="421.00" stroke="#000" stroke-width="1.2" />
<line x1="388.82" y1="416.20" x2="388.82" y2="421.00" stroke="#000" stroke-width="1.2" />
<line x1="400.39" y1="416.20" x2="400.39" y2="421.00" stroke="#000" stroke-width="1.2" />
<line x1="411.95" y1="416.20" x2="411.95" y2="421.00" stroke="#000" stroke-width="1.2" />
<line x1="423.52" y1="416.20" x2="423.52" y2="421.00" stroke="#000" stroke-width="1.2" />
<line x1="435.08" y1="416.20" x2="435.08" y2="421.00" stroke="#000" stroke-width="1.2" />
<line x1="446.65" y1="416.20" x2="446.65" y2="421.00" stroke="#000" stroke-width="1.2" />
<line x1="458.21" y1="416.20" x2="458.21" y2="421.00" stroke="#000" stroke-width="1.2" />
<line x1="469.77" y1="416.20" x2="469.77" y2="421.00" stroke="#000" stroke-width="1.2" />
<line x1="481.34" y1="416.20" x2="481.34" y2="421.00" stroke="#000" stroke-width="1.2" />
<line x1="492.90" y1="416.20" x2="492.90" y2="421.00" stroke="#000" stroke-width="1.2" />
<line x1="504.47" y1="416.20" x2="504.47" y2="421.00" stroke="#000" stroke-width="1.2" />
<line x1="516.03" y1="416.20" x2="516.03" y2="421.00" stroke="#000" stroke-width="1.2" />
<line x1="146.00" y1="379.50" x2="515.00" y2="379.50" stroke="#000" stroke-width="1.2" />
</svg>
</body></html>
